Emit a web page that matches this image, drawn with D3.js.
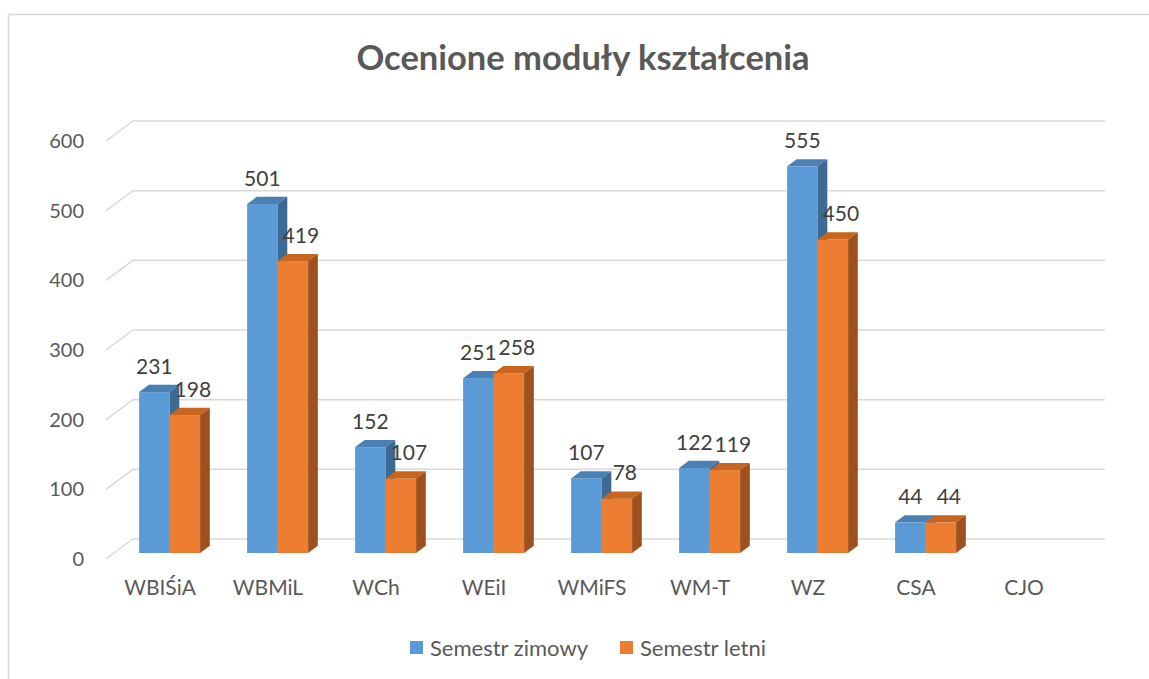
<!DOCTYPE html>
<meta charset="utf-8">
<style>
    body {
        margin: 0;
        background-color: #fff;
    }

    svg {
        font-family: Lato, "Open Sans", sans-serif;
    }

    .axisLabel {
        fill: #595959;
        font-size: 20px;
    }

    .catLabel {
        fill: #595959;
        font-size: 21px;
    }

    .legendLabel {
        fill: #595959;
        font-size: 22px;
    }

    .dataLabel {
        fill: #404040;
        font-size: 21px;
    }

    .title {
        fill: #595959;
        font-size: 34.5px;
        font-weight: bold;
    }

    .grid {
        stroke: #d9d9d9;
        stroke-width: 1.5;
        fill: none;
    }
</style>

<body>
    <script src="https://cdn.jsdelivr.net/npm/d3@7"></script>
    <script>
        // data
        var categories = ["WBIŚiA", "WBMiL", "WCh", "WEiI", "WMiFS", "WM-T", "WZ", "CSA", "CJO"];
        var seriesNames = ["Semestr zimowy", "Semestr letni"];
        var zimowy = [231, 501, 152, 251, 107, 122, 555, 44, null];
        var letni = [198, 419, 107, 258, 78, 119, 450, 44, null];
        var yTicks = [0, 100, 200, 300, 400, 500, 600];

        var width = 1149,
            height = 679;

        // depth of the 3d box: moving from front to back wall
        var depthX = 27,
            depthY = -20;

        var colors = [
            { front: "#5b9bd5", top: "#4a80b3", side: "#3c6a93" },
            { front: "#ed7d31", top: "#c8661f", side: "#9e501d" }
        ];

        var svg = d3.select("body").append("svg")
            .attr("width", width)
            .attr("height", height);

        // chart frame (only top and left edges visible)
        svg.append("path")
            .attr("d", "M8.5," + height + "V14.5H" + width)
            .attr("fill", "none")
            .attr("stroke", "#d9d9d9")
            .attr("stroke-width", 1.5);

        svg.append("text")
            .attr("class", "title")
            .attr("x", 583)
            .attr("y", 70)
            .attr("text-anchor", "middle")
            .text("Ocenione moduły kształcenia");

        // y on the back wall
        var y = d3.scaleLinear()
            .domain([0, 600])
            .range([539, 121]);

        // x on the front floor edge
        var x = d3.scaleBand()
            .domain(categories)
            .range([106, 1078]);

        var backLeft = x.range()[0] + depthX,
            backRight = x.range()[1] + depthX;

        // gridlines: front-left diagonal + back wall line
        var grid = svg.append("g");
        yTicks.forEach(function(t) {
            grid.append("path")
                .attr("class", "grid")
                .attr("d", "M" + x.range()[0] + "," + (y(t) - depthY) +
                    "L" + backLeft + "," + y(t) +
                    "H" + backRight);
        });

        // y tick labels at the front edge
        svg.append("g").selectAll("text")
            .data(yTicks)
            .enter().append("text")
            .attr("class", "axisLabel")
            .attr("x", 84)
            .attr("y", function(d) { return y(d) - depthY; })
            .attr("dy", "0.35em")
            .attr("text-anchor", "end")
            .text(function(d) { return d; });

        // category labels
        svg.append("g").selectAll("text")
            .data(categories)
            .enter().append("text")
            .attr("class", "catLabel")
            .attr("x", function(d) { return x(d) + x.bandwidth() / 2; })
            .attr("y", 588)
            .attr("dy", "0.35em")
            .attr("text-anchor", "middle")
            .text(function(d) { return d; });

        // bars sit between these depth fractions
        var tFront = 0.3,
            tBack = 0.66;
        var barW = 30.5;
        var x1 = d3.scaleBand()
            .domain([0, 1])
            .range([x.bandwidth() / 2 - barW + 1.5, x.bandwidth() / 2 + barW + 1.5]);

        var series = [zimowy, letni];
        var bars = svg.append("g");
        var labels = svg.append("g");

        categories.forEach(function(c, i) {
            series.forEach(function(vals, s) {
                var v = vals[i];
                if (v == null) return;
                var col = colors[s];
                var fx = x(c) + x1(s) + depthX * tFront;
                var fyTop = y(v) - depthY * (1 - tFront);
                var fyBot = y(0) - depthY * (1 - tFront);
                var dx = depthX * (tBack - tFront),
                    dy = depthY * (tBack - tFront);
                var w = x1.bandwidth();

                var g = bars.append("g");
                g.append("rect")
                    .attr("x", fx)
                    .attr("y", fyTop)
                    .attr("width", w)
                    .attr("height", fyBot - fyTop)
                    .attr("fill", col.front);
                g.append("path")
                    .attr("d", "M" + fx + "," + fyTop +
                        "l" + dx + "," + dy +
                        "h" + w +
                        "l" + (-dx) + "," + (-dy) + "Z")
                    .attr("fill", col.top);
                g.append("path")
                    .attr("d", "M" + (fx + w) + "," + fyTop +
                        "l" + dx + "," + dy +
                        "V" + (fyBot + dy) +
                        "l" + (-dx) + "," + (-dy) + "Z")
                    .attr("fill", col.side);

                labels.append("text")
                    .attr("class", "dataLabel")
                    .attr("x", fx + w / 2 + (s == 1 ? 8 : 0))
                    .attr("y", fyTop + dy - 11)
                    .attr("text-anchor", "middle")
                    .text(v);
            });
        });

        // legend
        var legend = svg.append("g");
        var legendX = [410, 620];
        seriesNames.forEach(function(name, i) {
            legend.append("rect")
                .attr("x", legendX[i])
                .attr("y", 641)
                .attr("width", 13)
                .attr("height", 13)
                .attr("fill", colors[i].front);
            legend.append("text")
                .attr("class", "legendLabel")
                .attr("x", legendX[i] + 20)
                .attr("y", 648)
                .attr("dy", "0.35em")
                .text(name);
        });
    </script>
</body>

</html>
